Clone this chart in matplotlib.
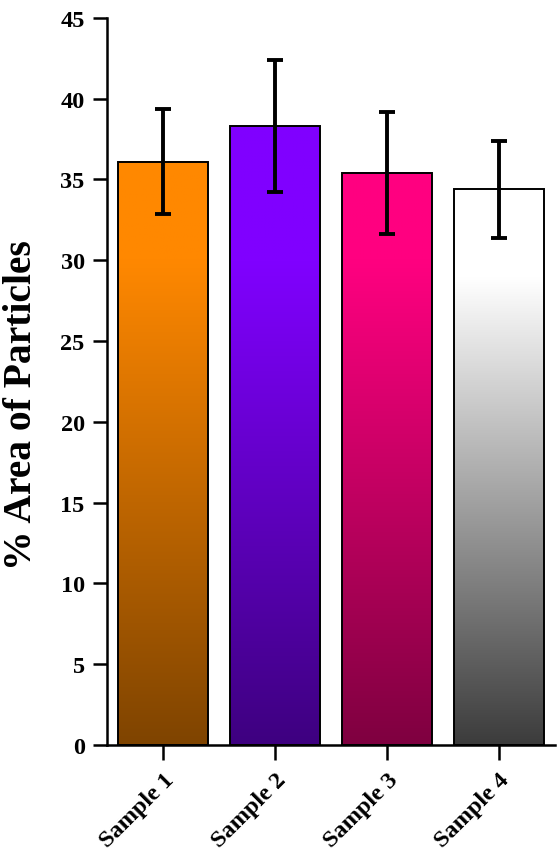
import numpy as np
import matplotlib.pyplot as plt
from matplotlib.colors import to_rgb

samples = ['Sample 1', 'Sample 2', 'Sample 3', 'Sample 4']
area = [36.1, 38.3, 35.4, 34.4]
err = [3.25, 4.1, 3.8, 3.0]
top_colors = ['#FF8800', '#8000FF', '#FF0080', '#FFFFFF']
bottom_colors = ['#7F4400', '#3E0080', '#7F0040', '#3C3C3C']

plt.rcParams['font.family'] = ['Liberation Serif', 'DejaVu Serif']
plt.rcParams['font.weight'] = 'bold'

fig = plt.figure(figsize=(5.6, 8.54), dpi=100)
ax = fig.add_axes([0.191, 0.1265, 0.8, 0.8515])

x = np.arange(len(samples))
w = 0.8
fade_top = [30, 30, 30, 29]

# vertical gradient inside every bar
for i in range(len(samples)):
    h = area[i]
    yy = np.linspace(0, h, 200)
    t = np.clip(yy / fade_top[i], 0, 1)[:, None]
    c0 = np.array(to_rgb(bottom_colors[i]))
    c1 = np.array(to_rgb(top_colors[i]))
    img = c0 + (c1 - c0) * t
    img = img[:, None, :]
    ax.imshow(img, extent=(x[i] - w / 2, x[i] + w / 2, 0, h), origin='lower',
              aspect='auto', interpolation='bilinear', zorder=1)

ax.bar(x, area, width=w, facecolor='none', edgecolor='black', linewidth=1.4, zorder=2)
ax.errorbar(x, area, yerr=err, fmt='none', ecolor='black', elinewidth=2.8,
            capsize=6, capthick=2.8, zorder=3)

ax.set_xlim(-0.5, 3.5)
ax.set_ylim(0, 45)
ax.set_yticks(np.arange(0, 46, 5))
ax.set_xticks(x)
ax.set_xticklabels(samples, rotation=45, ha='right', rotation_mode='anchor',
                   fontsize=17.5, fontweight='bold')
ax.tick_params(axis='y', labelsize=17.5, width=1.8, length=10, pad=6)
ax.tick_params(axis='x', width=1.8, length=11, pad=6)
ax.set_ylabel('% Area of Particles', fontsize=28.5, fontweight='bold')
ax.yaxis.set_label_coords(-0.15, 0.469)

for s in ['top', 'right']:
    ax.spines[s].set_visible(False)
for s in ['left', 'bottom']:
    ax.spines[s].set_linewidth(1.8)

fig.savefig('out.png', dpi=100)
